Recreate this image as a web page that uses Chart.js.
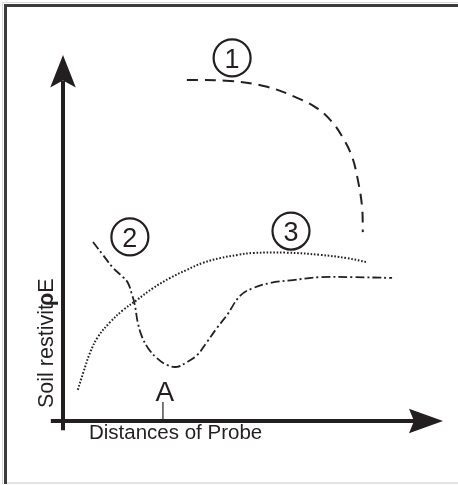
<!DOCTYPE html>
<html>
<head>
<meta charset="utf-8">
<style>
html,body{margin:0;padding:0;background:#fff;}
#wrap{position:absolute;left:0;top:0;width:458px;height:485px;}
</style>
<script src="https://cdn.jsdelivr.net/npm/chart.js@4/dist/chart.umd.min.js"></script>
</head>
<body>
<div id="wrap"><canvas id="c" width="458" height="485"></canvas></div>
<script>
// Curve 1 (dashed)
const curve1X = [3.26, 4.39, 5.37, 6.16, 6.68, 7.08, 7.37, 7.61, 7.76, 7.87, 7.89];
const curve1Y = [9.32, 9.29, 9.13, 8.83, 8.55, 8.17, 7.73, 7.21, 6.58, 5.85, 5.16];
// Curve 2 (dash-dot)
const curve2X = [0.79, 1.05, 1.32, 1.58, 1.71, 1.82, 1.89, 1.97, 2.08, 2.24, 2.47, 2.74, 3.00, 3.26, 3.53, 3.79, 4.05, 4.32, 4.66, 5.00, 5.45, 6.05, 6.76, 7.63, 8.66];
const curve2Y = [4.89, 4.54, 4.18, 3.93, 3.77, 3.44, 3.17, 2.68, 2.30, 1.99, 1.72, 1.53, 1.48, 1.61, 1.80, 2.16, 2.54, 2.90, 3.42, 3.63, 3.77, 3.85, 3.93, 3.93, 3.91];
// Curve 3 (dotted)
const curve3X = [0.39, 0.53, 0.71, 0.92, 1.24, 1.58, 1.95, 2.37, 2.82, 3.26, 3.68, 4.13, 4.61, 5.00, 5.89, 6.76, 7.47, 8.00];
const curve3Y = [0.85, 1.31, 1.86, 2.30, 2.70, 3.03, 3.31, 3.63, 3.91, 4.13, 4.32, 4.45, 4.54, 4.59, 4.60, 4.54, 4.45, 4.34];
// Labels
const curveLabels = ["1", "2", "3"];
const curveLabelX = [4.45, 1.76, 6.00];
const curveLabelY = [9.92, 5.03, 5.19];
const pointLabel = "A";
const pointLabelX = 2.63;
const xTitle = "Distances of Probe";
const yTitleParts = ["Soil restivit", "ρ", "E"];

const INK = '#231f20';
const FONT = "'Liberation Sans', Arial, Helvetica, sans-serif";

function pts(xs, ys){ return xs.map((x,i)=>({x:x, y:ys[i]})); }

const decor = {
  id: 'decor',
  beforeDraw(chart){
    const ctx = chart.ctx;
    ctx.save();
    ctx.fillStyle = '#fff';
    ctx.fillRect(0,0,chart.width,chart.height);
    ctx.fillStyle = '#d9d9d9';
    ctx.fillRect(2,2,456,1);
    ctx.fillRect(2,2,1,482);
    ctx.fillStyle = '#3c3c3c';
    ctx.fillRect(4,4,454,3);
    ctx.fillRect(4,4,3,480);
    ctx.fillStyle = '#e3e3e3';
    ctx.fillRect(7,482,451,2);
    ctx.restore();
  },
  afterDatasetsDraw(chart){
    const ctx = chart.ctx;
    const xs = chart.scales.x, ys = chart.scales.y;
    const x0 = xs.getPixelForValue(0), y0 = ys.getPixelForValue(0);
    const xTip = xs.getPixelForValue(10), yTip = ys.getPixelForValue(10);
    ctx.save();
    ctx.fillStyle = INK; ctx.strokeStyle = INK;
    ctx.lineWidth = 4;
    ctx.beginPath();
    ctx.moveTo(x0, ys.getPixelForValue(-0.25));
    ctx.lineTo(x0, yTip + 26);
    ctx.stroke();
    ctx.beginPath();
    ctx.moveTo(x0, yTip);
    ctx.lineTo(x0 + 12.8, yTip + 32.5);
    ctx.lineTo(x0, yTip + 25.5);
    ctx.lineTo(x0 - 12.8, yTip + 32.5);
    ctx.closePath();
    ctx.fill();
    ctx.beginPath();
    ctx.moveTo(xs.getPixelForValue(-0.32), y0);
    ctx.lineTo(xTip - 28, y0);
    ctx.stroke();
    ctx.beginPath();
    ctx.moveTo(xTip, y0);
    ctx.lineTo(xTip - 34, y0 - 12.2);
    ctx.lineTo(xTip - 29, y0);
    ctx.lineTo(xTip - 34, y0 + 12.2);
    ctx.closePath();
    ctx.fill();
    const ax = xs.getPixelForValue(pointLabelX);
    ctx.lineWidth = 1.2;
    ctx.beginPath();
    ctx.moveTo(ax, y0 - 19);
    ctx.lineTo(ax, y0);
    ctx.stroke();
    ctx.font = '28px ' + FONT;
    ctx.textAlign = 'center';
    ctx.textBaseline = 'alphabetic';
    ctx.fillText(pointLabel, ax + 2, y0 - 20.5);
    for (let i = 0; i < curveLabels.length; i++) {
      const cx = xs.getPixelForValue(curveLabelX[i]);
      const cy = ys.getPixelForValue(curveLabelY[i]);
      ctx.lineWidth = 2.2;
      ctx.beginPath();
      ctx.arc(cx, cy, 18.5, 0, Math.PI*2);
      ctx.stroke();
      ctx.font = '27px ' + FONT;
      ctx.textAlign = 'center';
      ctx.textBaseline = 'alphabetic';
      ctx.fillText(curveLabels[i], cx, cy + 9.8);
    }
    ctx.font = '20.5px ' + FONT;
    ctx.textAlign = 'left';
    ctx.textBaseline = 'alphabetic';
    ctx.fillText(xTitle, 89, y0 + 18);
    ctx.translate(53, 408);
    ctx.rotate(-Math.PI/2);
    ctx.font = '21.5px ' + FONT;
    ctx.textAlign = 'left';
    let w = ctx.measureText(yTitleParts[0]).width;
    ctx.fillText(yTitleParts[0], 0, 0);
    ctx.font = 'bold 21.5px ' + FONT;
    ctx.fillText(yTitleParts[1], w - 2, 0);
    let w2 = ctx.measureText(yTitleParts[1]).width;
    ctx.font = '21.5px ' + FONT;
    ctx.fillText(yTitleParts[2], w - 2 + w2, 0);
    ctx.restore();
  }
};

new Chart(document.getElementById('c'), {
  type: 'line',
  data: {
    datasets: [
      { label: 'Curve 1', data: pts(curve1X, curve1Y), borderColor: INK, borderWidth: 2, borderDash: [11, 7], pointRadius: 0, tension: 0.4, fill: false },
      { label: 'Curve 2', data: pts(curve2X, curve2Y), borderColor: INK, borderWidth: 1.8, borderDash: [9, 3, 2, 3], pointRadius: 0, tension: 0.4, fill: false },
      { label: 'Curve 3', data: pts(curve3X, curve3Y), borderColor: INK, borderWidth: 2, borderDash: [1.6, 1.8], pointRadius: 0, tension: 0.4, fill: false }
    ]
  },
  options: {
    responsive: false,
    animation: false,
    layout: { padding: { left: 63, right: 15, top: 55, bottom: 64 } },
    plugins: { legend: { display: false }, tooltip: { enabled: false } },
    scales: {
      x: { type: 'linear', min: 0, max: 10, display: false },
      y: { type: 'linear', min: 0, max: 10, display: false }
    }
  },
  plugins: [decor]
});
</script>
</body>
</html>
